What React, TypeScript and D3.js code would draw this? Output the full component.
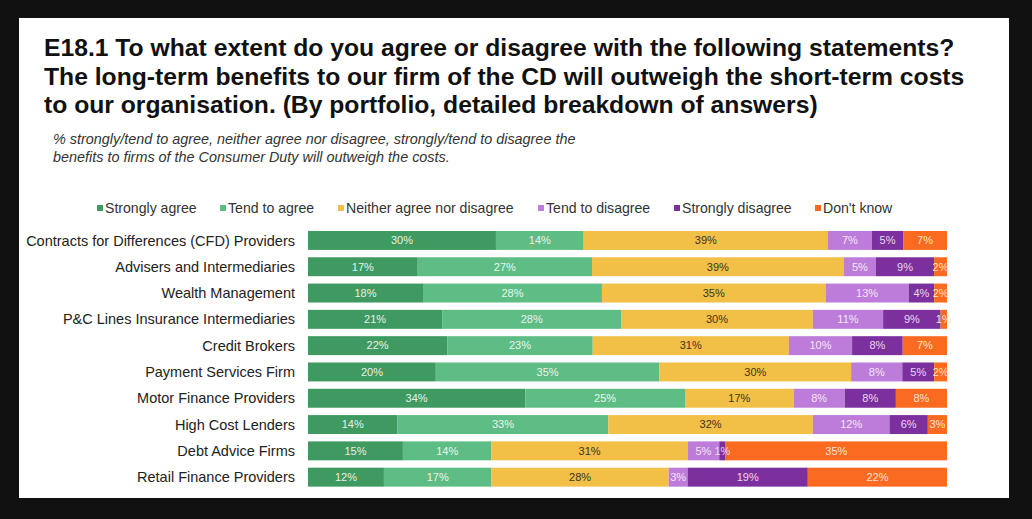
import React from "react";
import * as d3 from "d3";

const categories = [
  "Contracts for Differences (CFD) Providers",
  "Advisers and Intermediaries",
  "Wealth Management",
  "P&C Lines Insurance Intermediaries",
  "Credit Brokers",
  "Payment Services Firm",
  "Motor Finance Providers",
  "High Cost Lenders",
  "Debt Advice Firms",
  "Retail Finance Providers",
];

const seriesNames = [
  "Strongly agree",
  "Tend to agree",
  "Neither agree nor disagree",
  "Tend to disagree",
  "Strongly disagree",
  "Don't know",
];

const stronglyAgree = [30, 17, 18, 21, 22, 20, 34, 14, 15, 12];
const tendToAgree = [14, 27, 28, 28, 23, 35, 25, 33, 14, 17];
const neither = [39, 39, 35, 30, 31, 30, 17, 32, 31, 28];
const tendToDisagree = [7, 5, 13, 11, 10, 8, 8, 12, 5, 3];
const stronglyDisagree = [5, 9, 4, 9, 8, 5, 8, 6, 1, 19];
const dontKnow = [7, 2, 2, 1, 7, 2, 8, 3, 35, 22];

const seriesValues = [stronglyAgree, tendToAgree, neither, tendToDisagree, stronglyDisagree, dontKnow];

const colors = ["#3e9a60", "#5dbd84", "#f2bf47", "#bd7cd9", "#7c309d", "#fa6a21"];
const labelColors = ["#e6f1e9", "#eaf5ee", "#3c3420", "#f3e6f8", "#e9d9f0", "#fde2d2"];

const titleLines = [
  "E18.1 To what extent do you agree or disagree with the following statements?",
  "The long-term benefits to our firm of the CD will outweigh the short-term costs",
  "to our organisation. (By portfolio, detailed breakdown of answers)",
];
const subtitleLines = [
  "% strongly/tend to agree, neither agree nor disagree, strongly/tend to disagree the",
  "benefits to firms of the Consumer Duty will outweigh the costs.",
];

const W = 1032;
const H = 519;

export default function App() {
  const rows = categories.map((c, i) => {
    const r: any = { category: c };
    seriesNames.forEach((s, j) => (r[s] = seriesValues[j][i]));
    return r;
  });
  const stacked = d3.stack<any>().keys(seriesNames).offset(d3.stackOffsetExpand)(rows);

  const x = d3.scaleLinear().domain([0, 1]).range([308, 947]);
  const y = d3.scaleBand<string>().domain(categories).range([223.6, 494]).padding(0.28);

  // legend layout
  const legendX = [97, 220, 338, 538, 674, 815];

  return (
    <svg width={W} height={H} style={{ position: "absolute", left: 0, top: 0, display: "block" }}
      fontFamily="Liberation Sans, Arial, sans-serif">
      <rect x={0} y={0} width={W} height={H} fill="#111111" />
      <rect x={19} y={18} width={990} height={480} fill="#ffffff" />

      {titleLines.map((t, i) => (
        <text key={i} x={44} y={56 + i * 28.5} fontSize={24.7} fontWeight="bold" fill="#111">
          {t}
        </text>
      ))}
      {subtitleLines.map((t, i) => (
        <text key={i} x={53} y={144 + i * 18} fontSize={14.4} fontStyle="italic" fill="#333">
          {t}
        </text>
      ))}

      {seriesNames.map((s, j) => (
        <g key={s} transform={`translate(${legendX[j]},208)`}>
          <rect x={0} y={-3} width={6} height={6} fill={colors[j]} />
          <text x={8} y={0} dy="0.35em" fontSize={14.1} fill="#333">
            {s}
          </text>
        </g>
      ))}

      {categories.map((c) => (
        <text key={c} x={295} y={(y(c) as number) + y.bandwidth() / 2} dy="0.35em" textAnchor="end"
          fontSize={14.5} fill="#222">
          {c}
        </text>
      ))}

      {stacked.map((layer, j) => (
        <g key={layer.key}>
          {layer.map((d, i) => {
            const x0 = x(d[0]);
            const x1 = x(d[1]);
            const yy = y(categories[i]) as number;
            return (
              <rect key={i} x={x0} y={yy} width={x1 - x0} height={y.bandwidth()} fill={colors[j]} />
            );
          })}
        </g>
      ))}
      {stacked.map((layer, j) => (
        <g key={layer.key + "-lbl"}>
          {layer.map((d, i) => {
            const x0 = x(d[0]);
            const x1 = x(d[1]);
            const yy = y(categories[i]) as number;
            return (
              <text key={i} x={(x0 + x1) / 2} y={yy + y.bandwidth() / 2} dy="0.35em" textAnchor="middle"
                fontSize={11} fill={labelColors[j]}>
                {seriesValues[j][i]}%
              </text>
            );
          })}
        </g>
      ))}
    </svg>
  );
}
